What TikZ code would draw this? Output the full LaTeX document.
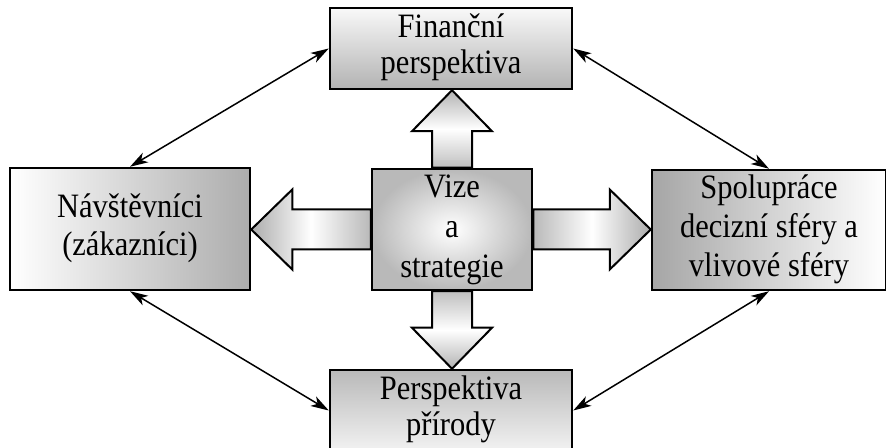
\documentclass[tikz,border=0pt]{standalone}
\usepackage{fontspec}
\usepackage{graphicx}
\setmainfont{Liberation Serif}
\newfontfamily\boxfont{Liberation Serif}
\newcommand\boxtext[2]{\scalebox{1}[1.12]{\boxfont\fontsize{30.5bp}{#1}\selectfont\begin{tabular}{@{}c@{}}#2\end{tabular}}}
\usetikzlibrary{arrows.meta,calc}
\begin{document}
\begin{tikzpicture}[x=1bp,y=-1bp,
  box/.style={draw=black,line width=2.5bp,inner sep=0pt,align=center},
  barrow/.style={draw=black,line width=2bp,line join=miter},
  dblarrow/.style={line width=1.5bp,{Stealth[length=18bp,width=11bp,inset=5bp]}-{Stealth[length=18bp,width=11bp,inset=5bp]}}]
\clip (0,0) rectangle (886,448);
% boxes
\node[box,minimum width=242bp,minimum height=81bp,top color=gray!5,bottom color=gray!60] (t) at (451,48.5) {\boxtext{32.14bp}{Finanční\\perspektiva}};
\node[box,minimum width=240bp,minimum height=122bp,left color=white,right color=gray!65] (l) at (130,229) {\boxtext{33.93bp}{Návštěvníci\\(zákazníci)}};
\node[box,minimum width=160bp,minimum height=121bp,inner color=white,outer color=gray!55] (c) at (452,229.5) {\boxtext{35.71bp}{Vize\\a\\strategie}};
\node[box,minimum width=234bp,minimum height=120bp,left color=gray!70,right color=white] (r) at (769,230) {\boxtext{34.82bp}{Spolupráce\\decizní sféry a\\vlivové sféry}};
\node[box,minimum width=242bp,minimum height=81bp,top color=gray!55,bottom color=gray!10] (b) at (451,410.5) {\boxtext{32.14bp}{Perspektiva\\přírody}};
% block arrows
\path[barrow,top color=gray!60,bottom color=gray!50,middle color=white]
  let \p1=(c.north), \p2=(t.south) in
  (\x1-20bp,\y1) -- (\x1-20bp,\y2-41bp) -- (\x1-40bp,\y2-41bp) -- (\x1,\y2)
  -- (\x1+40bp,\y2-41bp) -- (\x1+20bp,\y2-41bp) -- (\x1+20bp,\y1) -- cycle;
\path[barrow,top color=gray!50,bottom color=gray!60,middle color=white]
  let \p1=(c.south), \p2=(b.north) in
  (\x1-20bp,\y1) -- (\x1-20bp,\y2+41bp) -- (\x1-40bp,\y2+41bp) -- (\x1,\y2)
  -- (\x1+40bp,\y2+41bp) -- (\x1+20bp,\y2+41bp) -- (\x1+20bp,\y1) -- cycle;
\path[barrow,left color=gray!65,right color=gray!55,middle color=white]
  let \p1=(c.west), \p2=(l.east) in
  (\x1,\y1+20bp) -- (\x2+41bp,\y1+20bp) -- (\x2+41bp,\y1+40bp) -- (\x2,\y1)
  -- (\x2+41bp,\y1-40bp) -- (\x2+41bp,\y1-20bp) -- (\x1,\y1-20bp) -- cycle;
\path[barrow,left color=gray!55,right color=gray!65,middle color=white]
  let \p1=(c.east), \p2=(r.west) in
  (\x1,\y1+20bp) -- (\x2-41bp,\y1+20bp) -- (\x2-41bp,\y1+40bp) -- (\x2,\y1)
  -- (\x2-41bp,\y1-40bp) -- (\x2-41bp,\y1-20bp) -- (\x1,\y1-20bp) -- cycle;
% thin double arrows
\draw[dblarrow] (l.north) -- (t.west);
\draw[dblarrow] (t.east) -- (r.north);
\draw[dblarrow] (l.south) -- (b.west);
\draw[dblarrow] (r.south) -- (b.east);
\end{tikzpicture}
\end{document}
